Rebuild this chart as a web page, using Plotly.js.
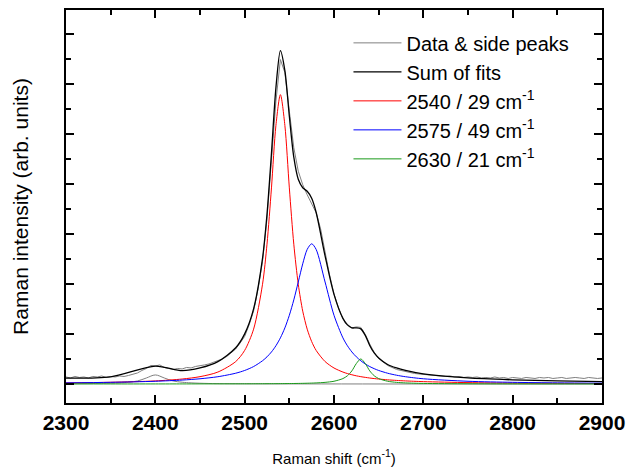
<!DOCTYPE html>
<html>
<head>
<meta charset="utf-8">
<script src="https://cdn.plot.ly/plotly-3.0.1.min.js"></script>
<style>
html,body{margin:0;padding:0;background:#fff;}
#chart{width:626px;height:467px;}
</style>
</head>
<body>
<div id="chart"></div>
<script>
// Measured data (Raman shift in cm-1, intensity in arb. units)
const xData = [2300,2305,2310,2315,2320,2325,2330,2335,2340,2345,2350,2355,2360,2365,2370,2375,2380,2385,2390,2395,
  2400,2405,2410,2415,2420,2425,2430,2435,2440,2445,2450,2455,2460,2465,2470,2475,2480,2485,2490,2495,
  2500,2505,2510,2515,2520,2525,2530,2535,2540,2545,2550,2555,2560,2565,2570,2575,2580,2585,2590,2595,
  2600,2605,2610,2615,2620,2625,2630,2635,2640,2645,2650,2655,2660,2665,2670,2675,2680,2685,2690,2695,
  2700,2705,2710,2715,2720,2725,2730,2735,2740,2745,2750,2755,2760,2765,2770,2775,2780,2785,2790,2795,
  2800,2805,2810,2815,2820,2825,2830,2835,2840,2845,2850,2855,2860,2865,2870,2875,2880,2885,2890,2895,2900];
const yData = [0.14,0.12,0.15,0.13,0.14,0.12,0.15,0.14,0.16,0.13,0.15,0.14,0.16,0.15,0.17,0.19,0.22,0.27,0.31,0.37,
  0.36,0.38,0.33,0.31,0.29,0.31,0.30,0.33,0.32,0.35,0.36,0.38,0.40,0.43,0.46,0.50,0.55,0.62,0.70,0.82,
  0.95,1.18,1.46,1.90,2.45,3.30,4.40,5.65,6.48,6.22,5.45,4.72,4.25,3.98,3.78,3.60,3.42,3.10,2.62,2.18,
  1.80,1.52,1.30,1.19,1.12,1.14,1.13,0.99,0.80,0.63,0.51,0.44,0.37,0.33,0.29,0.27,0.25,0.22,0.21,0.20,
  0.19,0.18,0.17,0.17,0.16,0.15,0.16,0.14,0.15,0.13,0.14,0.13,0.14,0.12,0.13,0.12,0.14,0.12,0.13,0.11,
  0.13,0.12,0.11,0.13,0.12,0.11,0.13,0.12,0.13,0.11,0.12,0.13,0.11,0.12,0.13,0.12,0.11,0.13,0.12,0.11,0.12];

// Side peak (2400 cm-1)
const xSide = [2300,2340,2360,2370,2380,2390,2400,2410,2420,2430,2440,2460,2500,2900];
const ySide = [0.005,0.012,0.022,0.035,0.06,0.12,0.18,0.12,0.06,0.035,0.022,0.01,0.004,0.0];

// Fitted components
const xFit = [2300,2350,2400,2430,2450,2470,2490,2500,2510,2520,2525,2530,2535,2540,2545,2550,2555,2560,2565,2570,
  2575,2580,2590,2600,2610,2615,2620,2625,2630,2635,2640,2645,2650,2660,2670,2680,2700,2750,2800,2850,2900];
const yRed = [0.021,0.034,0.061,0.099,0.146,0.238,0.448,0.671,1.095,1.992,2.792,3.917,5.166,5.78,5.166,3.917,2.792,1.992,1.455,1.095,
  0.847,0.671,0.448,0.319,0.238,0.208,0.184,0.163,0.146,0.132,0.119,0.108,0.099,0.083,0.071,0.061,0.047,0.027,0.018,0.013,0.009];
const yBlue = [0.022,0.033,0.054,0.078,0.104,0.145,0.215,0.27,0.348,0.464,0.542,0.640,0.764,0.921,1.120,1.372,1.680,2.037,2.400,2.688,
  2.8,2.688,2.037,1.372,0.921,0.764,0.640,0.542,0.464,0.400,0.348,0.306,0.27,0.215,0.175,0.145,0.104,0.054,0.033,0.022,0.016];
const yGreen = [0.0005,0.0007,0.001,0.0014,0.0017,0.0021,0.0028,0.0032,0.0038,0.0045,0.005,0.0055,0.006,0.0067,0.0075,0.0085,0.0096,0.011,0.0127,0.0149,
  0.0176,0.0211,0.0322,0.0546,0.108,0.164,0.262,0.408,0.5,0.408,0.262,0.164,0.108,0.0546,0.0322,0.0211,0.011,0.0038,0.0019,0.0011,0.0007];
const ySum = [0.117,0.144,0.358,0.265,0.32,0.447,0.723,1.0,1.50,2.51,3.39,4.61,5.92,6.66,6.26,5.35,4.53,4.09,3.92,3.85,
  3.71,3.43,2.56,1.79,1.31,1.18,1.12,1.12,1.10,0.97,0.77,0.62,0.52,0.39,0.32,0.27,0.20,0.12,0.083,0.061,0.046];

const legendNames = ['Data &amp; side peaks','Sum of fits','2540 / 29 cm<sup>-1</sup>','2575 / 49 cm<sup>-1</sup>','2630 / 21 cm<sup>-1</sup>'];
const xTickVals = [2300,2400,2500,2600,2700,2800,2900];

const FONT = 'Liberation Sans, Arial, Helvetica, sans-serif';

const traces = [
  {x:xData, y:yData, type:'scatter', mode:'lines', name:legendNames[0], legendgroup:'data',
   line:{color:'#808080', width:1}},
  {x:xSide, y:ySide, type:'scatter', mode:'lines', name:'side', legendgroup:'data', showlegend:false,
   line:{color:'#808080', width:1, shape:'spline'}},
  {x:xFit, y:ySum, type:'scatter', mode:'lines', name:legendNames[1],
   line:{color:'#000000', width:1.3, shape:'spline', smoothing:0.8}},
  {x:xFit, y:yRed, type:'scatter', mode:'lines', name:legendNames[2],
   line:{color:'#ff0000', width:1, shape:'spline', smoothing:0.8}},
  {x:xFit, y:yBlue, type:'scatter', mode:'lines', name:legendNames[3],
   line:{color:'#0000ff', width:1, shape:'spline', smoothing:0.8}},
  {x:xFit, y:yGreen, type:'scatter', mode:'lines', name:legendNames[4],
   line:{color:'#1a9a1a', width:1, shape:'spline', smoothing:0.8}}
];

const layout = {
  width:626, height:467,
  margin:{l:66, r:24, t:10, b:64, pad:0},
  paper_bgcolor:'#ffffff', plot_bgcolor:'#ffffff',
  font:{family:FONT, color:'#000000'},
  showlegend:true,
  legend:{x:0.527, y:0.966, xanchor:'left', yanchor:'top', bgcolor:'rgba(0,0,0,0)',
          font:{family:FONT, size:20, color:'#000'}, itemwidth:48, tracegroupgap:0, traceorder:'normal'},
  xaxis:{
    range:[2300,2900], tickvals:xTickVals, ticks:'inside', ticklen:8, tickwidth:2, tickcolor:'#000',
    showline:true, linewidth:2, linecolor:'#000', mirror:'allticks', showgrid:false, zeroline:false,
    tickfont:{family:FONT, size:21, weight:'bold', color:'#000'},
    minor:{dtick:50, tick0:2300, ticks:'inside', ticklen:5, tickwidth:2, tickcolor:'#000', showgrid:false},
    title:{text:'Raman shift (cm<sup>-1</sup>)', font:{family:FONT, size:15, color:'#000'}, standoff:20}
  },
  yaxis:{
    range:[-0.38,7.47], dtick:1, tick0:0, ticks:'inside', ticklen:8, tickwidth:2, tickcolor:'#000',
    showticklabels:false, showline:true, linewidth:2, linecolor:'#000', mirror:'allticks',
    showgrid:false, zeroline:false,
    minor:{dtick:0.5, tick0:0, ticks:'inside', ticklen:5, tickwidth:2, tickcolor:'#000', showgrid:false},
    title:{text:'Raman intensity (arb. units)', font:{family:FONT, size:21, color:'#000'}, standoff:30}
  }
};

Plotly.newPlot('chart', traces, layout, {displayModeBar:false, staticPlot:true});
</script>
</body>
</html>
